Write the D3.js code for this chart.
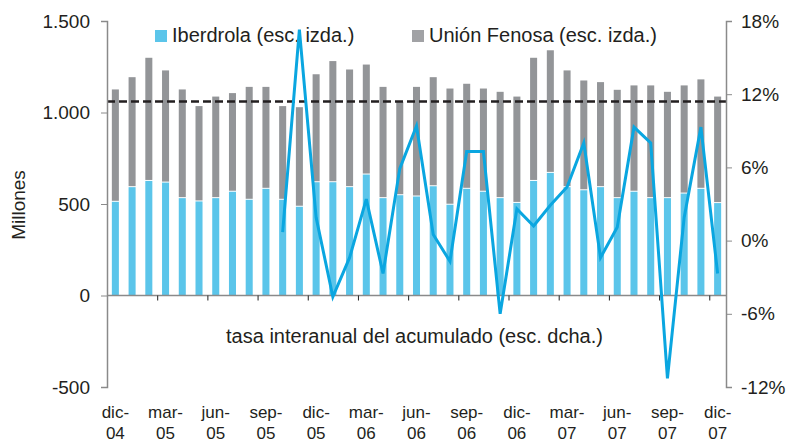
<!DOCTYPE html>
<html>
<head>
<meta charset="utf-8">
<script src="https://cdn.jsdelivr.net/npm/d3@7"></script>
<style>
  body { margin: 0; background: #fff; }
  svg { display: block; font-family: "Liberation Sans", Arial, sans-serif; }
</style>
</head>
<body>
<svg id="chart" width="788" height="442"></svg>
<script>
// monthly data, dic-04 .. dic-07
const meses = ['dic-04','ene-05','feb-05','mar-05','abr-05','may-05','jun-05','jul-05','ago-05','sep-05','oct-05','nov-05',
  'dic-05','ene-06','feb-06','mar-06','abr-06','may-06','jun-06','jul-06','ago-06','sep-06','oct-06','nov-06',
  'dic-06','ene-07','feb-07','mar-07','abr-07','may-07','jun-07','jul-07','ago-07','sep-07','oct-07','nov-07','dic-07']
const iberdrola = [512,592,626,617,532,514,532,567,523,583,523,485,619,619,592,661,532,548,541,597,496,583,567,532,506,626,670,592,575,592,532,567,532,532,557,583,505]
const unionFenosa = [614,601,673,613,594,521,555,539,617,557,512,544,590,662,643,601,608,510,599,596,635,574,564,581,581,673,670,638,600,574,592,581,616,581,591,598,582]
// tasa interanual del acumulado (%), right axis
const tasa = [null,null,null,null,null,null,null,null,null,null,0.7,17.3,1.9,-4.6,-1.4,3.4,-2.7,5.9,9.4,0.5,-1.7,7.3,7.3,-6.0,2.6,1.2,2.9,4.4,8.0,-1.4,1.1,9.3,8.0,-11.3,1.9,9.3,-2.7]
const mediaTotal = 1060
const ticksIzq = [-500, 0, 500, 1000, 1500]
const ticksDcha = [-12, -6, 0, 6, 12, 18]

const width = 788, height = 442
const margin = { top: 21, right: 62, bottom: 55, left: 107 }
const azul = '#5bc5ea', gris = '#939598', linea = '#0aa6e0', texto = '#231f20', ejes = '#8a8a8a'

const svg = d3.select('#chart')
const x = d3.scaleBand().domain(meses).range([margin.left, width - margin.right]).paddingInner(0.58).paddingOuter(0.29)
const xi = d3.scaleLinear().domain([0, meses.length]).range([margin.left, width - margin.right])
const yL = d3.scaleLinear().domain([-500, 1500]).range([height - margin.bottom, margin.top])
const yR = d3.scaleLinear().domain([-12, 18]).range([height - margin.bottom, margin.top])

const es = d3.formatLocale({ decimal: ',', thousands: '.', grouping: [3], currency: ['', '€'], minus: '-' })
const fmt = es.format(',')

// bars
const data = meses.map((m, i) => ({ m, ib: iberdrola[i], uf: unionFenosa[i] }))
const g = svg.append('g')
g.selectAll('rect.ib').data(data).join('rect')
  .attr('x', d => x(d.m)).attr('width', x.bandwidth())
  .attr('y', d => yL(d.ib)).attr('height', d => yL(0) - yL(d.ib))
  .attr('fill', azul)
g.selectAll('rect.uf').data(data).join('rect')
  .attr('x', d => x(d.m)).attr('width', x.bandwidth())
  .attr('y', d => yL(d.ib + d.uf)).attr('height', d => yL(d.ib) - yL(d.ib + d.uf) - 1)
  .attr('fill', gris)

// average dashed line
svg.append('line')
  .attr('x1', margin.left).attr('x2', width - margin.right)
  .attr('y1', yL(mediaTotal)).attr('y2', yL(mediaTotal))
  .attr('stroke', texto).attr('stroke-width', 2.6).attr('stroke-dasharray', '8,4')

// legend
const leg = [{ t: 'Iberdrola (esc. izda.)', c: azul, x: 155 }, { t: 'Unión Fenosa (esc. izda.)', c: '#a1a2a5', x: 412 }]
leg.forEach(l => {
  svg.append('rect').attr('x', l.x).attr('y', 30).attr('width', 12).attr('height', 12).attr('fill', l.c)
  svg.append('text').attr('x', l.x + 17).attr('y', 42).attr('fill', texto).attr('font-size', 20).text(l.t)
})

// x axis (zero line)
const xAxis = svg.append('g').attr('transform', `translate(0,${yL(0)})`)
  .call(d3.axisBottom(xi).tickValues(d3.range(0, meses.length, 3)).tickSize(5).tickFormat(''))
xAxis.select('.domain').attr('stroke', ejes).attr('stroke-width', 1.5).attr('d', `M${margin.left},0H${width - margin.right}`)
xAxis.selectAll('.tick line').attr('stroke', '#222')

// month labels
const lab = svg.append('g').attr('fill', texto).attr('font-size', 17).attr('text-anchor', 'middle')
meses.forEach((m, i) => {
  if (i % 3 !== 0) return
  const [mm, yy] = m.split('-')
  const t = lab.append('text').attr('x', x(m) + x.bandwidth() / 2).attr('y', 418)
  t.append('tspan').text(mm + '-')
  t.append('tspan').attr('x', x(m) + x.bandwidth() / 2).attr('dy', 21).text(yy)
})

// left axis
const ax1 = svg.append('g').attr('transform', `translate(${margin.left},0)`)
  .call(d3.axisLeft(yL).tickValues(ticksIzq).tickSize(6).tickPadding(11).tickFormat(fmt))
ax1.select('.domain').attr('stroke', ejes).attr('stroke-width', 1.5)
ax1.selectAll('.tick line').attr('stroke', ejes)
ax1.selectAll('.tick text').attr('fill', texto).attr('font-size', 19).attr('font-family', '"Liberation Sans", Arial, sans-serif')

// right axis
const ax2 = svg.append('g').attr('transform', `translate(${width - margin.right},0)`)
  .call(d3.axisRight(yR).tickValues(ticksDcha).tickSize(6).tickPadding(9).tickFormat(d => d + '%'))
ax2.select('.domain').attr('stroke', ejes).attr('stroke-width', 1.5)
ax2.selectAll('.tick line').attr('stroke', ejes)
ax2.selectAll('.tick text').attr('fill', texto).attr('font-size', 19).attr('font-family', '"Liberation Sans", Arial, sans-serif')

// rate line
const lineGen = d3.line()
  .defined(d => d != null)
  .x((d, i) => x(meses[i]) + x.bandwidth() / 2)
  .y(d => yR(d))
svg.append('path').datum(tasa)
  .attr('fill', 'none').attr('stroke', linea).attr('stroke-width', 3).attr('stroke-linejoin', 'miter')
  .attr('d', lineGen)

// titles
svg.append('text').attr('transform', `translate(25,${(margin.top + height - margin.bottom) / 2 + 1}) rotate(-90)`)
  .attr('text-anchor', 'middle').attr('fill', texto).attr('font-size', 19).text('Millones')
svg.append('text').attr('x', (margin.left + width - margin.right) / 2 - 2).attr('y', 343)
  .attr('text-anchor', 'middle').attr('fill', texto).attr('font-size', 20).text('tasa interanual del acumulado (esc. dcha.)')
</script>
</body>
</html>
